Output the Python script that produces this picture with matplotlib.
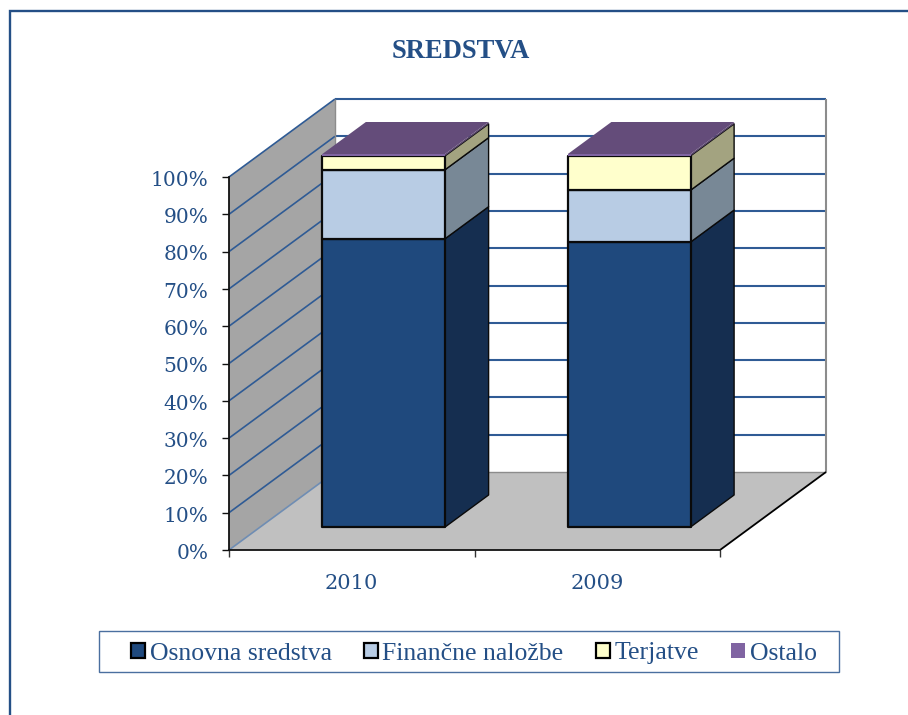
import matplotlib
matplotlib.use("Agg")
import matplotlib.pyplot as plt
from matplotlib.lines import Line2D
from matplotlib.patches import Patch, Rectangle
from matplotlib.transforms import ScaledTranslation

W, H = 908, 715
NAVY = "#244f86"
GRID = "#2f5b95"

years = ["2010", "2009"]
series_names = ["Osnovna sredstva", "Finančne naložbe", "Terjatve", "Ostalo"]
osnovna = [77.3, 76.4]
financne = [18.5, 13.9]
terjatve = [3.7, 9.2]
ostalo = [0.5, 0.5]
series_values = [osnovna, financne, terjatve, ostalo]
front_colors = ["#1f497d", "#b8cce4", "#ffffcc", "#8064a2"]
side_colors = ["#152e50", "#788896", "#a3a380", "#564468"]
top_color = "#644c7a"
y_ticks = list(range(0, 101, 10))

fig = plt.figure(figsize=(W / 100, H / 100), dpi=100, facecolor="white")
ax = fig.add_axes([229 / W, 1 - 550 / H, 491 / W, 373 / H])
ax.set_xlim(0, 2)
ax.set_ylim(0, 100)
ax.patch.set_visible(False)

# oblique depth projection: one full depth unit in data units
DX = 106 / 245.5
DY = 78 / 3.73
def proj(x, y, d):
    return x + d * DX, y + d * DY

def poly(pts, **kw):
    xs, ys = zip(*[proj(*p) for p in pts])
    ax.fill(xs, ys, clip_on=False, **kw)

def seg(p, q, **kw):
    a, b = proj(*p), proj(*q)
    ax.plot([a[0], b[0]], [a[1], b[1]], clip_on=False, solid_capstyle="butt", **kw)

# walls and floor
poly([(0, 0, 0), (0, 100, 0), (0, 100, 1), (0, 0, 1)], fc="#a5a5a5", ec="none", zorder=1)
poly([(0, 0, 0), (2, 0, 0), (2, 0, 1), (0, 0, 1)], fc="#c0c0c0", ec="none", zorder=1)

for t in y_ticks:
    c = "#6f8db3" if t == 0 else GRID
    seg((0, t, 0), (0, t, 1), color=c, lw=1.2, zorder=2)
    if t > 0:
        seg((0, t, 1), (2, t, 1), color=GRID, lw=1.5, zorder=2)
seg((0, 0, 1), (0, 100, 1), color="#8c8c8c", lw=1.0, zorder=2)
seg((2, 0, 1), (2, 100, 1), color="#8c8c8c", lw=1.5, zorder=2)
seg((0, 0, 1), (2, 0, 1), color="#8c8c8c", lw=1.0, zorder=2)
seg((2, 0, 0), (2, 0, 1), color="black", lw=1.3, zorder=2)

# stacked 3-D bars
BW = 0.25
D0, D1 = 23 / 78, 55 / 78
for i in range(len(years)):
    cx = i + 0.5 + 0.003
    x0, x1 = cx - BW, cx + BW
    base = 0
    for k, vals in enumerate(series_values):
        top = base + vals[i]
        edge = "none" if k == 3 else "#0a0a0a"
        z = 5 + k
        poly([(x1, base, D0), (x1, base, D1), (x1, top, D1), (x1, top, D0)],
             fc=side_colors[k], ec=edge, lw=1.0, zorder=z, joinstyle="round")
        poly([(x0, base, D0), (x1, base, D0), (x1, top, D0), (x0, top, D0)],
             fc=front_colors[k], ec=edge, lw=1.6, zorder=z + 0.5, joinstyle="round")
        base = top
    poly([(x0, base, D0), (x1, base, D0), (x1, base, D1), (x0, base, D1)],
         fc=top_color, ec="none", zorder=10)

# axes
for s in ("top", "right"):
    ax.spines[s].set_visible(False)
for s in ("left", "bottom"):
    ax.spines[s].set_color("#111111")
    ax.spines[s].set_linewidth(1.3)
    ax.spines[s].set_zorder(12)
ax.set_yticks(y_ticks)
ax.set_yticklabels([f"{t}%" for t in y_ticks], family="DejaVu Serif", fontsize=14.5, color=NAVY)
ax.tick_params(axis="y", length=5, width=1.0, color="#111111", pad=10)
shift = ScaledTranslation(0, -1.0 / 72, fig.dpi_scale_trans)
for lab in ax.get_yticklabels():
    lab.set_transform(lab.get_transform() + shift)
ax.set_xticks([0, 1, 2])
ax.set_xticklabels([])
ax.set_xticks([0.5, 1.5], minor=True)
ax.set_xticklabels(years, minor=True, family="DejaVu Serif", fontsize=15, color=NAVY)
ax.tick_params(axis="x", which="major", length=5, width=1.0, color="#333333")
ax.tick_params(axis="x", which="minor", length=0, pad=17)

fig.text(461 / W, 1 - 52 / H, "SREDSTVA", family="Liberation Serif", fontweight="bold",
         fontsize=19.2, color=NAVY, ha="center", va="center")

# outer frame (top and left only)
fig.add_artist(Line2D([10 / W, 10 / W, 1], [0, 1 - 11 / H, 1 - 11 / H], color=NAVY, lw=1.7,
                      solid_joinstyle="miter"))

# legend box and legend
fig.add_artist(Rectangle((99 / W, 1 - 672 / H), 740 / W, 41 / H, transform=fig.transFigure,
                         fc="white", ec="#4a6f9f", lw=1.0))
handles = [Patch(fc=front_colors[k], ec="black" if k < 3 else "none", lw=1.6) for k in range(4)]
leg = fig.legend(handles, series_names, loc="center left",
                 bbox_to_anchor=(131 / W, 1 - 653.5 / H), ncols=4,
                 prop={"family": "Liberation Serif", "size": 18.5}, labelcolor=NAVY,
                 frameon=False, borderpad=0, borderaxespad=0,
                 handlelength=0.55, handleheight=0.55, handletextpad=0.17, columnspacing=1.26)

fig.savefig("out.png", dpi=100, facecolor="white")
